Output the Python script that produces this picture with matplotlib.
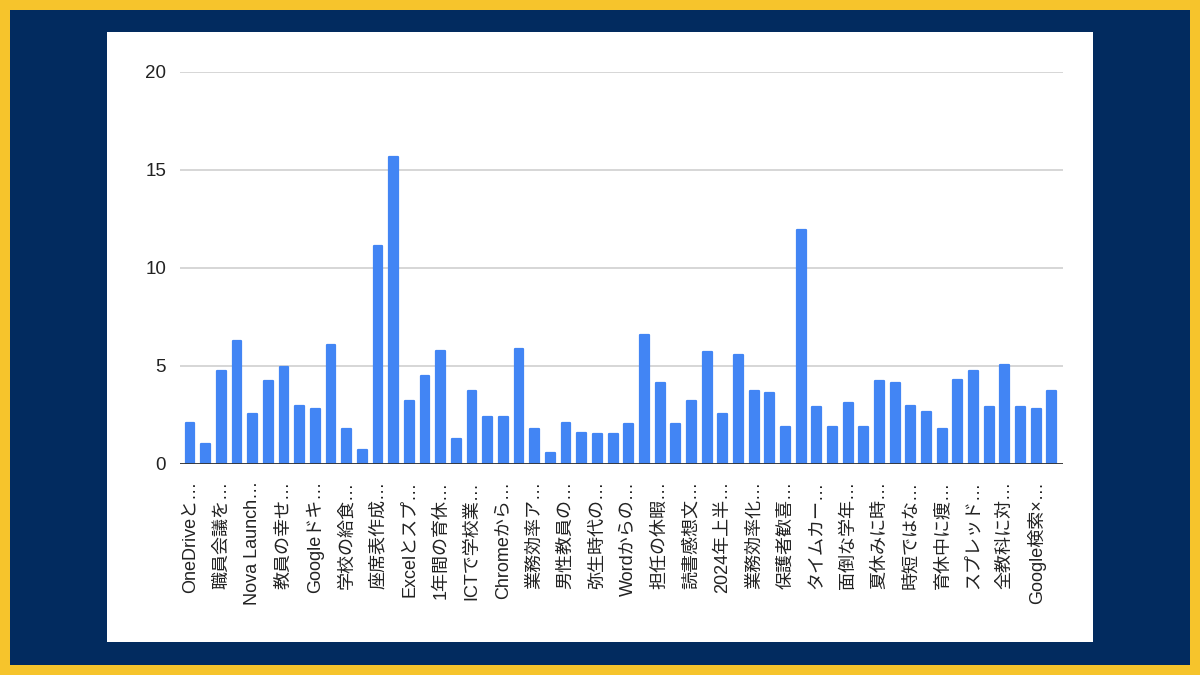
import matplotlib
matplotlib.use("Agg")
import matplotlib.pyplot as plt
from matplotlib.patches import Rectangle

plt.rcParams['font.family'] = ['Liberation Sans', 'Noto Sans CJK JP', 'DejaVu Sans']

# Shown category labels (every other bar is labelled)
shown_labels = [
    "OneDriveと…", "職員会議を…", "Nova Launch…", "教員の幸せ…", "Googleドキ…",
    "学校の給食…", "座席表作成…", "Excelとスプ…", "1年間の育休…", "ICTで学校業…",
    "Chromeから…", "業務効率ア…", "男性教員の…", "弥生時代の…", "Wordからの…",
    "担任の休暇…", "読書感想文…", "2024年上半…", "業務効率化…", "保護者歓喜…",
    "タイムカー…", "面倒な学年…", "夏休みに時…", "時短ではな…", "育休中に痩…",
    "スプレッド…", "全教科に対…", "Google検索×…",
]

values = [
    2.1, 1.0, 4.75, 6.3, 2.55, 4.25, 4.95, 2.95, 2.8, 6.05,
    1.8, 0.7, 11.1, 15.65, 3.2, 4.5, 5.75, 1.3, 3.7, 2.4,
    2.4, 5.85, 1.8, 0.55, 2.1, 1.6, 1.55, 1.55, 2.05, 6.6,
    4.15, 2.05, 3.2, 5.7, 2.55, 5.55, 3.7, 3.6, 1.9, 11.95,
    2.9, 1.9, 3.1, 1.9, 4.25, 4.15, 2.95, 2.65, 1.8, 4.3,
    4.75, 2.9, 5.05, 2.9, 2.8, 3.7,
]

y_ticks = [0, 5, 10, 15, 20]

W, H = 1200, 675
fig = plt.figure(figsize=(12, 6.75), dpi=100)
fig.patch.set_facecolor('#f6c42c')

# navy frame and white panel
fig.patches.append(Rectangle((10 / W, 10 / H), 1 - 20 / W, 1 - 20 / H,
                             transform=fig.transFigure, facecolor='#022b5f',
                             edgecolor='none', zorder=-10))
fig.patches.append(Rectangle((107 / W, 1 - 642 / H), (1093 - 107) / W, (642 - 32) / H,
                             transform=fig.transFigure, facecolor='white',
                             edgecolor='none', zorder=-9))

ax = fig.add_axes([180 / W, 1 - 464 / H, (1063 - 180) / W, (464 - 72) / H])
ax.set_facecolor('none')
ax.set_zorder(5)

x = list(range(len(values)))
ax.bar(x, values, width=0.56, color='#4285f4', edgecolor='#4285f4',
       linewidth=1.6, joinstyle='round', zorder=3)

ax.set_ylim(0, 20)
ax.set_xlim(-0.64, len(values) - 0.29)
ax.set_yticks(y_ticks)
ax.set_yticklabels([str(t) for t in y_ticks], fontsize=13.5, color='#222222')
ax.yaxis.grid(True, color='#cccccc', linewidth=1.1, zorder=0)
ax.set_axisbelow(True)
ax.axhline(0, color='#333333', linewidth=1.3, zorder=4)

ax.set_xticks(x[::2])
ax.set_xticklabels(shown_labels, rotation=90, fontsize=13, color='#222222',
                   va='top', ha='center')
ax.tick_params(axis='both', length=0)
ax.tick_params(axis='x', pad=12)
ax.tick_params(axis='y', pad=10)
for s in ax.spines.values():
    s.set_visible(False)

fig.savefig('out.png', dpi=100, facecolor=fig.get_facecolor())
